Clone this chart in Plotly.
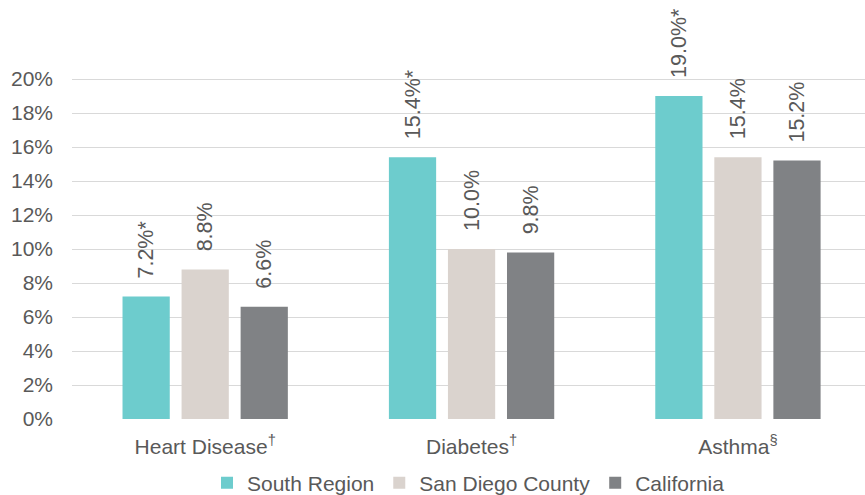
import plotly.graph_objects as go

categories = ["Heart Disease<sup>†</sup>", "Diabetes<sup>†</sup>", "Asthma<sup>§</sup>"]
series_names = ["South Region", "San Diego County", "California"]
south = [7.2, 15.4, 19.0]
sandiego = [8.8, 10.0, 15.4]
california = [6.6, 9.8, 15.2]
south_flags = ["*", "*", "*"]
y_ticks = [0, 2, 4, 6, 8, 10, 12, 14, 16, 18, 20]
y_tick_labels = [f"{v}%" for v in y_ticks]

colors = ["#6DCCCD", "#DAD3CE", "#808285"]
font_family = "Liberation Sans, Arial, sans-serif"
text_color = "#595959"
pad = "\u2002\u2009"
fs = 21

fig = go.Figure()
data = [south, sandiego, california]
for i, (name, vals) in enumerate(zip(series_names, data)):
    if i == 0:
        labels = [f"{pad}{v:.1f}%{f}" for v, f in zip(vals, south_flags)]
    else:
        labels = [f"{pad}{v:.1f}%" for v in vals]
    fig.add_trace(go.Bar(
        name=name, x=categories, y=vals,
        marker=dict(color=colors[i], line=dict(width=0)),
        text=labels, textposition="outside", textangle=-90,
        constraintext="none",
        textfont=dict(family=font_family, size=fs + 0.5, color=text_color),
        cliponaxis=False,
    ))

fig.update_layout(
    width=865, height=495,
    margin=dict(l=72, r=0, t=0, b=76),
    paper_bgcolor="white", plot_bgcolor="white",
    barmode="group", bargap=0.335, bargroupgap=0.2,
    font=dict(family=font_family, size=fs, color=text_color),
    showlegend=True,
    legend=dict(orientation="h", xanchor="center", x=0.5, yref="container",
                y=0.024, yanchor="middle", font=dict(size=fs, color=text_color),
                itemwidth=30, traceorder="normal"),
)
fig.update_xaxes(range=[-0.5, 2.477], showgrid=False, showline=False,
                 ticks="outside", ticklen=9, tickcolor="rgba(0,0,0,0)",
                 tickfont=dict(size=fs, color=text_color))
fig.update_yaxes(range=[0, 24.647], tickvals=y_ticks, ticktext=y_tick_labels,
                 showgrid=True, gridcolor="#D9D9D9", gridwidth=1.3,
                 zeroline=False, showline=False, ticklabelstandoff=18,
                 tickfont=dict(size=fs, color=text_color))

fig.write_html("out.html", config={"displayModeBar": False},
               post_script="document.body.style.margin='0px';")
